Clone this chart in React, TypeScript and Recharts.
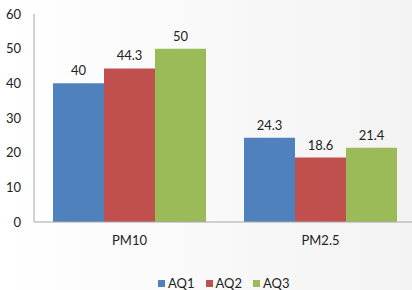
import React from "react";
import { BarChart, Bar, XAxis, YAxis, Legend, LabelList } from "recharts";

const categories = ["PM10", "PM2.5"];
const aq1 = [40, 24.3];
const aq2 = [44.3, 18.6];
const aq3 = [50, 21.4];
const yTicks = [0, 10, 20, 30, 40, 50, 60];
const seriesNames = ["AQ1", "AQ2", "AQ3"];
const colors = ["#4f81bd", "#c0504d", "#9bbb59"];

const data = categories.map((c, i) => ({
  name: c,
  AQ1: aq1[i],
  AQ2: aq2[i],
  AQ3: aq3[i],
}));

const FONT = "Lato, 'Liberation Sans', sans-serif";

const LegendContent = () => (
  <div style={{ display: "flex", fontFamily: FONT, fontSize: 13, color: "#222", lineHeight: "14px" }}>
    {seriesNames.map((s, i) => (
      <div key={s} style={{ display: "flex", alignItems: "center", marginRight: 11 }}>
        <div style={{ width: 7, height: 7, background: colors[i], marginRight: 3 }} />
        <span>{s}</span>
      </div>
    ))}
  </div>
);

export default function App() {
  return (
    <div
      style={{
        position: "absolute",
        left: 0,
        top: 0,
        width: 412,
        height: 290,
        overflow: "hidden",
        background: "linear-gradient(to right, #ffffff 0%, #f3f3f3 100%)",
      }}
    >
      <BarChart
        width={412}
        height={290}
        data={data}
        margin={{ top: 14, right: -4, left: 0, bottom: 0 }}
        barCategoryGap={19}
        barGap={0}
      >
        <YAxis
          width={34}
          domain={[0, 60]}
          ticks={yTicks}
          tickLine={false}
          axisLine={{ stroke: "#a6a6a6" }}
          tickMargin={7}
          tick={{ fill: "#222", fontSize: 13, fontFamily: FONT }}
          interval={0}
        />
        <XAxis
          dataKey="name"
          height={40}
          tickLine={false}
          axisLine={{ stroke: "#a6a6a6" }}
          tickMargin={8}
          tick={{ fill: "#222", fontSize: 13, fontFamily: FONT }}
        />
        <Legend
          verticalAlign="bottom"
          height={28}
          content={<LegendContent />}
          wrapperStyle={{ left: 158, top: 276, width: "auto" }}
        />
        {seriesNames.map((s, i) => (
          <Bar key={s} dataKey={s} fill={colors[i]} isAnimationActive={false}>
            <LabelList
              dataKey={s}
              position="top"
              offset={8}
              style={{ fill: "#222", fontSize: 13, fontFamily: FONT }}
            />
          </Bar>
        ))}
      </BarChart>
    </div>
  );
}
